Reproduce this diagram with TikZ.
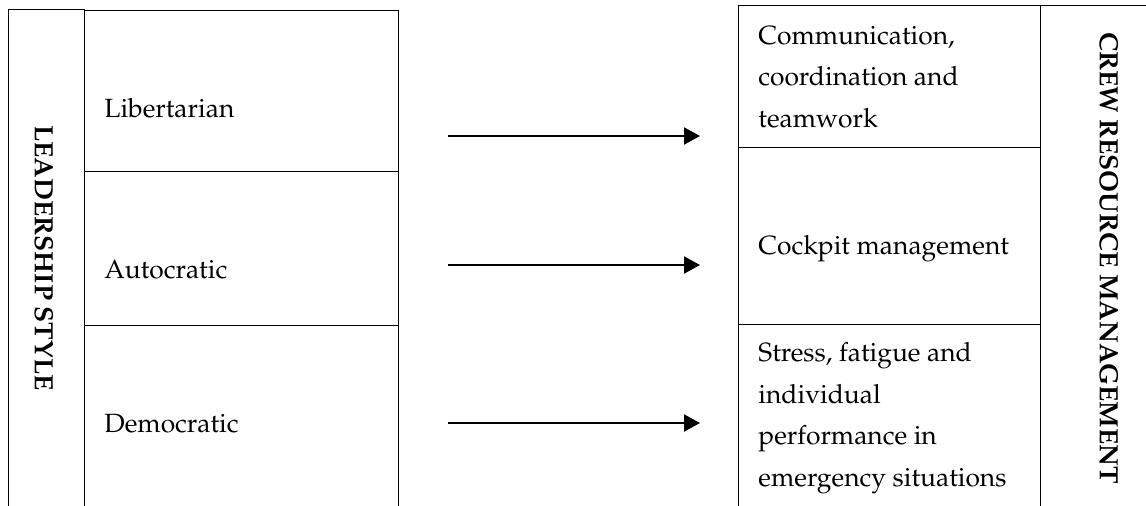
\documentclass[tikz,border=0pt]{standalone}
\usepackage[T1]{fontenc}
\usepackage{mathpazo}
\usetikzlibrary{arrows.meta}

\begin{document}
\begin{tikzpicture}[x=0.5pt,y=-0.5pt]
            \tikzset{box/.style={draw,line width=0.6pt,rectangle,inner sep=0pt,anchor=north west}}
            \tikzset{lbl/.style={inner sep=0pt,anchor=base west,align=left,font=\fontsize{13.2}{20.7}\selectfont}}
            \tikzset{side/.style={inner sep=0pt,rotate=-90,font=\fontsize{13.2}{16}\selectfont\bfseries}}
            \tikzset{link/.style={line width=1pt,-{Triangle[length=8pt,width=8.5pt]}}}
            % \tikzset{box/.append style={very thick}}
            \useasboundingbox (0,0) rectangle (1146,505);
            % leadership side
            \node[box,minimum width=38pt,minimum height=253pt] (lead) at (8,9) {};
            \node[box,minimum width=157pt,minimum height=80.5pt] (lib) at (84,10) {};
            \node[box,minimum width=157pt,minimum height=77pt] (aut) at (84,171) {};
            \node[box,minimum width=157pt,minimum height=95pt] (dem) at (84,325) {};
            \node[side] (leadtxt) at (44,258) {LEADERSHIP STYLE};
            \node[lbl] (libtxt) at (104,117) {Libertarian};
            \node[lbl] (auttxt) at (104,278) {Autocratic};
            \node[lbl] (demtxt) at (104,432) {Democratic};
            % crm side
            \node[box,minimum width=151pt,minimum height=71pt] (com) at (738,5) {};
            \node[box,minimum width=151pt,minimum height=88.5pt] (cock) at (738,147) {};
            \node[box,minimum width=151pt,minimum height=95pt] (stress) at (738,324) {};
            \node[box,minimum width=70pt,minimum height=255pt] (crm) at (1040,5) {};
            \node[side] (crmtxt) at (1109,258) {CREW RESOURCE MANAGEMENT};
            % multi-line labels sit on their last line
            \node[lbl] (comtxt) at (758,127) {Communication,\\coordination and\\teamwork};
            \node[lbl] (cocktxt) at (758,254) {Cockpit management};
            \node[lbl] (stresstxt) at (758,486) {Stress, fatigue and\\individual\\performance in\\emergency situations};
            % arrows
            \coordinate (from1) at (448,136);
            \coordinate (to1) at (700,136);
            \coordinate (from2) at (448,265);
            \coordinate (to2) at (700,265);
            \coordinate (from3) at (448,423);
            \coordinate (to3) at (700,423);
            \draw[link] (from1) -- (to1);
            \draw[link] (from2) -- (to2);
            \draw[link] (from3) -- (to3);
\end{tikzpicture}
\end{document}
